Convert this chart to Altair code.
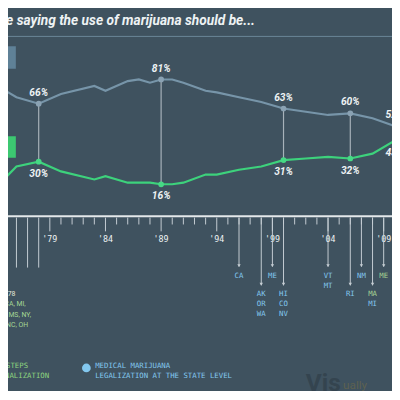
import altair as alt
import pandas as pd

# ---------------- data ----------------
years = [1973, 1975, 1976, 1978, 1980, 1983, 1984, 1986, 1987, 1988, 1989, 1990,
         1991, 1993, 1994, 1996, 1998, 2000, 2002, 2004, 2006, 2008, 2010]
illegal = [79, 74, 70, 66, 72, 77, 74, 80, 81, 79, 81, 81,
           79, 74, 73, 70, 67, 63, 61, 59, 60, 57, 52]
legal = [19, 20, 27, 30, 24, 19, 21, 17, 17, 17, 16, 16,
         17, 22, 22, 25, 27, 31, 32, 33, 32, 35, 43]
marked_years = [1978, 1989, 2000, 2006, 2010]
series_names = ["Illegal", "Legal"]
title_text = "Percentage of people saying the use of marijuana should be..."

tick_years = list(range(1975, 2010))
major_years = [1979, 1984, 1989, 1994, 1999, 2004, 2009]
major_labels = ["'79", "'84", "'89", "'94", "'99", "'04", "'09"]
decrim_years = [1975, 1976, 1977, 1978]
decrim_period = "1974-'78"
decrim_states = ["AK, CA, MI,", "MN, MS, NY,", "NE, NC, OH"]

med_years = [1996, 1998, 1999, 2000, 2004, 2006, 2007, 2008, 2009]
med_level = [0, 1, 0, 1, 0, 1, 0, 1, 0]
med_states = [["CA"], ["AK", "OR", "WA"], ["ME"], ["HI", "CO", "NV"], ["VT", "MT"],
              ["RI"], ["NM"], ["MA", "MI"], ["ME"]]
decrim_marks = [(2008, "MA"), (2009, "ME")]

legend_decrim = ["STATES TAKING STEPS", "TOWARD DECRIMINALIZATION"]
legend_medical = ["MEDICAL MARIJUANA", "LEGALIZATION AT THE STATE LEVEL"]
watermark = ["Vis", "ually"]

# ---------------- styles ----------------
BG = "#3f525f"
C_ILL = "#7795a9"
C_ILL_PT = "#8aa2b3"
C_LEG = "#3dd27c"
C_LEG_PT = "#46d985"
C_ILL_BOX = "#5f8197"
C_LEG_BOX = "#3cc871"
C_CONN = "#a7b2ba"
C_TXT = "#eef2f4"
C_AXIS = "#e4e8ea"
C_TICK = "#c6ced4"
C_BLUE = "#83c8ef"
C_GREEN_T = "#a6d795"
C_GREEN_L = "#8ed47f"
C_CREAM = "#e6e8da"
MONO = "DejaVu Sans Mono"

W, H = 392, 383

xscale = alt.Scale(domain=[1979, 2009], range=[42.7, 383.5])
yscale = alt.Scale(domain=[0, 100], range=[202.3, 37.7])
X = alt.X("year:Q", scale=xscale, axis=None)

df_long = pd.DataFrame({
    "year": years * 2,
    "series": [series_names[0]] * len(years) + [series_names[1]] * len(years),
    "value": illegal + legal,
})
idx = [years.index(y) for y in marked_years]
df_mark = pd.DataFrame({
    "year": marked_years,
    "illegal": [illegal[i] for i in idx],
    "legal": [legal[i] for i in idx],
})
one = pd.DataFrame({"a": [0]})

layers = []

# title + rule
layers.append(alt.Chart(one).mark_text(
    text=title_text, align="right", baseline="alphabetic", font="Roboto",
    fontSize=14, fontStyle="italic", fontWeight="bold", color=C_TXT
).encode(x=alt.value(252), y=alt.value(13.5)))
layers.append(alt.Chart(one).mark_rule(color="#6a8799", strokeWidth=1).encode(
    x=alt.value(-10), x2=alt.value(W + 10), y=alt.value(25)))

# series label boxes
layers.append(alt.Chart(one).mark_rect(color=C_ILL_BOX).encode(
    x=alt.value(-60), x2=alt.value(8), y=alt.value(35), y2=alt.value(58)))
layers.append(alt.Chart(one).mark_text(
    text=series_names[0], align="right", baseline="middle", font="Roboto", fontSize=16,
    fontStyle="italic", fontWeight="bold", color="#ffffff").encode(x=alt.value(-2.5), y=alt.value(46.5)))
layers.append(alt.Chart(one).mark_rect(color=C_LEG_BOX).encode(
    x=alt.value(-60), x2=alt.value(8), y=alt.value(127), y2=alt.value(149)))
layers.append(alt.Chart(one).mark_text(
    text=series_names[1], align="right", baseline="middle", font="Roboto", fontSize=16,
    fontStyle="italic", fontWeight="bold", color="#ffffff").encode(x=alt.value(-3), y=alt.value(138)))

# connectors, lines, points, labels
layers.append(alt.Chart(df_mark).mark_rule(color=C_CONN, strokeWidth=1.2).encode(
    x=X, y=alt.Y("illegal:Q", scale=yscale, axis=None), y2="legal:Q"))
layers.append(alt.Chart(df_long).mark_line(strokeWidth=2.2, clip=True).encode(
    x=X, y=alt.Y("value:Q", scale=yscale, axis=None),
    color=alt.Color("series:N", scale=alt.Scale(domain=series_names, range=[C_ILL, C_LEG]), legend=None)))
layers.append(alt.Chart(df_mark).mark_circle(size=34, opacity=1, color=C_ILL_PT).encode(
    x=X, y=alt.Y("illegal:Q", scale=yscale, axis=None)))
layers.append(alt.Chart(df_mark).mark_circle(size=34, opacity=1, color=C_LEG_PT).encode(
    x=X, y=alt.Y("legal:Q", scale=yscale, axis=None)))
layers.append(alt.Chart(df_mark).transform_calculate(t="datum.illegal + '%'").mark_text(
    dy=-11, baseline="middle", font="Roboto", fontSize=10.5, fontStyle="italic",
    fontWeight="bold", color=C_TXT).encode(
    x=X, y=alt.Y("illegal:Q", scale=yscale, axis=None), text="t:N"))
layers.append(alt.Chart(df_mark).transform_calculate(t="datum.legal + '%'").mark_text(
    dy=12.5, baseline="middle", font="Roboto", fontSize=10.5, fontStyle="italic",
    fontWeight="bold", color=C_TXT).encode(
    x=X, y=alt.Y("legal:Q", scale=yscale, axis=None), text="t:N"))

# ---------------- timeline ----------------
layers.append(alt.Chart(one).mark_rule(color=C_AXIS, strokeWidth=2).encode(
    x=alt.value(-10), x2=alt.value(W + 10), y=alt.value(208.5)))
df_minor = pd.DataFrame({"year": [y for y in tick_years if y not in major_years and y not in decrim_years]})
layers.append(alt.Chart(df_minor).mark_rule(color=C_TICK, strokeWidth=1).encode(
    x=X, y=alt.value(210), y2=alt.value(217)))
df_major = pd.DataFrame({"year": major_years, "label": major_labels})
layers.append(alt.Chart(df_major).mark_rule(color=C_TICK, strokeWidth=1).encode(
    x=X, y=alt.value(210), y2=alt.value(224)))
layers.append(alt.Chart(df_major).mark_text(
    baseline="middle", font=MONO, fontSize=8.5, color=C_TXT).encode(
    x=X, y=alt.value(232), text="label:N"))
df_dec = pd.DataFrame({"year": decrim_years})
layers.append(alt.Chart(df_dec).mark_rule(color=C_TICK, strokeWidth=1).encode(
    x=X, y=alt.value(210), y2=alt.value(261)))

# decriminalization text block (right ends as seen in the picture)
layers.append(alt.Chart(one).mark_text(
    text=decrim_period, align="right", baseline="middle", font="Roboto", fontSize=7,
    color=C_CREAM).encode(x=alt.value(7.5), y=alt.value(287.7)))
for line, xe, ye in zip(decrim_states, [18, 23.5, 20.5], [298.7, 309.3, 319.3]):
    layers.append(alt.Chart(one).mark_text(
        text=line, align="right", baseline="middle", font="Roboto", fontSize=7,
        color=C_GREEN_T).encode(x=alt.value(xe), y=alt.value(ye)))

# medical marijuana arrows
df_med = pd.DataFrame({"year": med_years, "level": med_level})
for lvl, end in [(0, 260), (1, 279)]:
    sub = alt.Chart(df_med).transform_filter(f"datum.level == {lvl}")
    layers.append(sub.mark_rule(color=C_TICK, strokeWidth=1).encode(
        x=X, y=alt.value(210), y2=alt.value(end)))
    layers.append(sub.mark_point(shape="triangle-down", filled=True, size=12, opacity=1,
                                 color=C_TICK).encode(x=X, y=alt.value(end - 1)))

rows = []
for y, lvl, sts in zip(med_years, med_level, med_states):
    for j, s in enumerate(sts):
        rows.append({"year": y, "state": s, "level": lvl, "line": j,
                     "kind": "decrim" if (y, s) in decrim_marks else "medical"})
df_states = pd.DataFrame(rows)
slot_scale = alt.Scale(domain=[0, 1], range=[270, 280])
for kind, col in [("medical", C_BLUE), ("decrim", C_GREEN_T)]:
    layers.append(alt.Chart(df_states).transform_filter(f"datum.kind == '{kind}'")
                  .transform_calculate(slot="datum.level * 1.8 + datum.line")
                  .mark_text(baseline="middle", font=MONO, fontSize=7.5, color=col)
                  .encode(x=X, y=alt.Y("slot:Q", scale=slot_scale, axis=None), text="state:N"))

# legend
layers.append(alt.Chart(one).mark_text(
    text=legend_decrim[0], align="right", baseline="middle", font=MONO, fontSize=7.5,
    color=C_GREEN_L).encode(x=alt.value(20.5), y=alt.value(362)))
layers.append(alt.Chart(one).mark_text(
    text=legend_decrim[1], align="right", baseline="middle", font=MONO, fontSize=7.5,
    color=C_GREEN_L).encode(x=alt.value(42), y=alt.value(372)))
layers.append(alt.Chart(one).mark_circle(size=80, opacity=1, color=C_BLUE).encode(
    x=alt.value(80), y=alt.value(363.5)))
layers.append(alt.Chart(one).mark_text(
    text=legend_medical[0], align="left", baseline="middle", font=MONO, fontSize=7.5,
    color=C_BLUE).encode(x=alt.value(89), y=alt.value(362)))
layers.append(alt.Chart(one).mark_text(
    text=legend_medical[1], align="left", baseline="middle", font=MONO, fontSize=7.5,
    color=C_BLUE).encode(x=alt.value(89), y=alt.value(372)))

# watermark
layers.append(alt.Chart(one).mark_text(
    text=watermark[0], align="left", baseline="alphabetic", font="Roboto", fontSize=25,
    fontWeight="bold", color="#34444f").encode(x=alt.value(304), y=alt.value(387)))
layers.append(alt.Chart(one).mark_text(
    text=watermark[1], align="left", baseline="alphabetic", font="Roboto", fontSize=12,
    color="#5d6150").encode(x=alt.value(342), y=alt.value(385)))

chart = alt.layer(*layers).resolve_scale(y="independent").properties(
    width=W, height=H, padding=0, background=BG,
    autosize=alt.AutoSizeParams(type="none"),
).configure_view(stroke=None)

chart.save("out.html", embed_options={"renderer": "svg", "actions": False})
